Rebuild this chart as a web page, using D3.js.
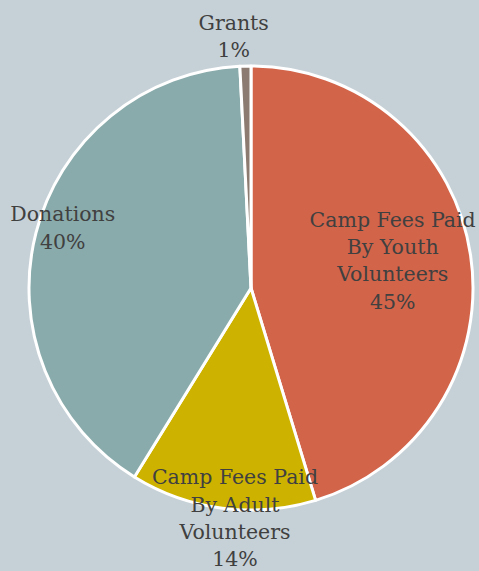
<!DOCTYPE html>
<html><head><meta charset="utf-8">
<script src="https://cdn.jsdelivr.net/npm/d3@7"></script>
<style>html,body{margin:0;padding:0;background:#c6d1d7;}svg{display:block;}</style>
</head><body>
<svg id="c" width="479" height="571"></svg>
<script>
const categories = ["Camp Fees Paid By Youth Volunteers", "Camp Fees Paid By Adult Volunteers", "Donations", "Grants"];
const labelLines = [["Camp Fees Paid","By Youth","Volunteers"],["Camp Fees Paid","By Adult","Volunteers"],["Donations"],["Grants"]];
const values = [45.3, 13.5, 40.4, 0.8];
const percentLabels = ["45%", "14%", "40%", "1%"];
const colors = ["#d2644a", "#cdb300", "#8aabab", "#8b7b70"];

const W = 479, H = 571, cx = 251, cy = 288, R = 222;
const svg = d3.select("#c");
svg.append("rect").attr("width", W).attr("height", H).attr("fill", "#c6d1d7");
const g = svg.append("g").attr("transform", `translate(${cx},${cy})`);
const pie = d3.pie().sort(null).value(d => d);
const arcs = pie(values);
const arc = d3.arc().innerRadius(0).outerRadius(R);
g.selectAll("path").data(arcs).enter().append("path")
  .attr("d", arc).attr("fill", (d, i) => colors[i])
  .attr("stroke", "#ffffff").attr("stroke-width", 3).attr("stroke-linejoin", "round");

// label placement (radius factor and angular nudge, in layout code)
const labelR = [0.65, 1.04, 0.89, 1.135];
const labelDA = [-2.5, -3.4, 3.3, -2.5];
const lineH = 27.3;
const font = "'DejaVu Serif', Georgia, serif";
arcs.forEach((a, i) => {
  const ang = ((a.startAngle + a.endAngle) / 2) + labelDA[i] * Math.PI / 180;
  const r = R * labelR[i];
  const x = r * Math.sin(ang), y = -r * Math.cos(ang);
  const lines = labelLines[i].concat([percentLabels[i]]);
  const n = lines.length;
  const t = g.append("text").attr("text-anchor", "middle")
    .attr("font-family", font).attr("font-size", 20.5).attr("fill", "#404040");
  lines.forEach((l, k) => {
    t.append("tspan").attr("x", x).attr("y", y + (k - (n - 1) / 2) * lineH + 7).text(l);
  });
});
</script>
</body></html>
